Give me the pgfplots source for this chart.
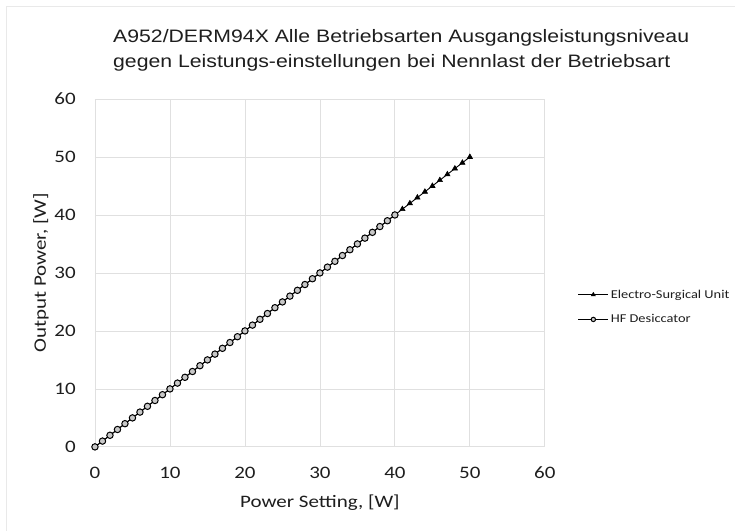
\documentclass[border=0pt]{standalone}
\usepackage{pgfplots}
\pgfplotsset{compat=1.18}
\usepackage{fontspec}
\setmainfont{Carlito}[FakeStretch=1.2]
\newfontfamily\titlefont{Liberation Sans}[FakeStretch=1.18]
\definecolor{gridgrey}{RGB}{224,224,224}
\definecolor{markgrey}{RGB}{200,200,200}
\definecolor{txt}{RGB}{30,30,30}

\pgfplotstableread{
x y
0 0
1 1
2 2
3 3
4 4
5 5
6 6
7 7
8 8
9 9
10 10
11 11
12 12
13 13
14 14
15 15
16 16
17 17
18 18
19 19
20 20
21 21
22 22
23 23
24 24
25 25
26 26
27 27
28 28
29 29
30 30
31 31
32 32
33 33
34 34
35 35
36 36
37 37
38 38
39 39
40 40
41 41
42 42
43 43
44 44
45 45
46 46
47 47
48 48
49 49
50 50
}\esu

\pgfplotstableread{
x y
0 0
1 1
2 2
3 3
4 4
5 5
6 6
7 7
8 8
9 9
10 10
11 11
12 12
13 13
14 14
15 15
16 16
17 17
18 18
19 19
20 20
21 21
22 22
23 23
24 24
25 25
26 26
27 27
28 28
29 29
30 30
31 31
32 32
33 33
34 34
35 35
36 36
37 37
38 38
39 39
40 40
}\hfd

\begin{document}
\begin{tikzpicture}
\fill[white] (0pt,0pt) rectangle (735pt,531pt);
\draw[gridgrey!70] (6pt,0pt) -- (6pt,525pt) -- (735pt,525pt);
\node[anchor=base west,font=\titlefont\fontsize{18}{22}\selectfont,text=txt,inner sep=0pt]
  at (113pt,488pt) {A952/DERM94X Alle Betriebsarten Ausgangsleistungsniveau};
\node[anchor=base west,font=\titlefont\fontsize{18}{22}\selectfont,text=txt,inner sep=0pt]
  at (113pt,463pt) {gegen Leistungs-einstellungen bei Nennlast der Betriebsart};
\begin{axis}[
  at={(95pt,84pt)}, anchor=south west,
  scale only axis, width=450pt, height=348pt,
  xmin=0, xmax=60, ymin=0, ymax=60,
  xtick={0,10,...,60}, ytick={0,10,...,60},
  grid=major, grid style={gridgrey, line width=0.8pt},
  axis line style={gridgrey, line width=0.8pt},
  major tick length=0pt,
  tick label style={font=\fontsize{17.5}{20}\selectfont, text=txt, inner sep=0pt},
  /pgf/number format/assume math mode=true,
  xticklabel style={anchor=center, yshift=-26pt},
  yticklabel style={anchor=east, xshift=-19pt},
  xlabel={Power Setting, [W]}, ylabel={Output Power, [W]},
  label style={font=\fontsize{17.5}{20}\selectfont, text=txt},
  xlabel style={at={(axis description cs:0.5,-0.161)}, anchor=center},
  ylabel style={at={(axis description cs:-0.12,0.5)}, anchor=center},
  legend style={at={(1.073,0.402)}, anchor=west, draw=none, fill=none,
    font=\fontsize{12}{14}\selectfont, text=txt, row sep=11pt,
    legend cell align=left, inner sep=0pt},
  legend image code/.code={%
    \draw[mark repeat=2,mark phase=2,#1,mark size=2.2pt] plot coordinates {(0pt,0pt) (15pt,0pt) (30pt,0pt)};},
  clip=false,
]
\addplot[black, line width=0.9pt, mark=triangle*, mark size=3pt,
  mark options={fill=black, line width=0.6pt}] table {\esu};
\addlegendentry{Electro-Surgical Unit}
\addplot[black, line width=0.9pt, mark=*, mark size=3.2pt,
  mark options={fill=markgrey, line width=1pt}] table {\hfd};
\addlegendentry{HF Desiccator}
\end{axis}
\end{tikzpicture}
\end{document}
